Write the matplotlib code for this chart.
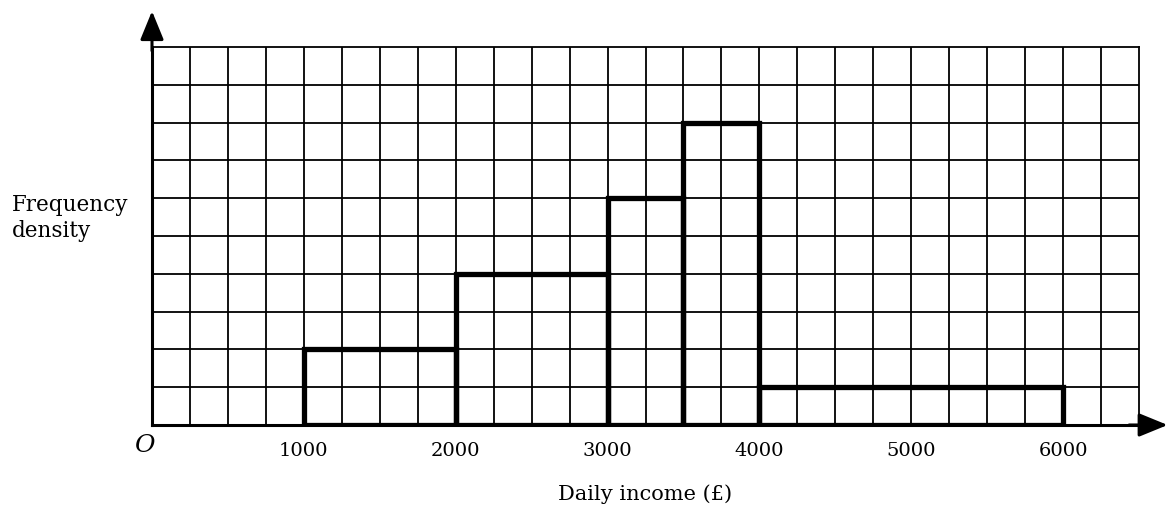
import matplotlib
matplotlib.use("Agg")
import matplotlib.pyplot as plt
import numpy as np

# Data: class boundaries of daily income (£) and frequency density (in grid squares)
edges = [1000, 2000, 3000, 3500, 4000, 6000]
density = [2, 4, 6, 8, 1]
tick_values = [1000, 2000, 3000, 4000, 5000, 6000]
tick_labels = ["1000", "2000", "3000", "4000", "5000", "6000"]

plt.rcParams['font.family'] = ['DejaVu Serif']

fig = plt.figure(figsize=(11.69, 5.12), dpi=100)
ax = fig.add_axes([152/1169, 87/512, 987/1169, 378/512])

ax.set_xlim(0, 6500)
ax.set_ylim(0, 10)

# grid of small squares (graph paper)
for gx in np.arange(250, 6500, 250):
    ax.axvline(gx, color='black', linewidth=1.3, zorder=1)
for gy in np.arange(1, 10, 1):
    ax.axhline(gy, color='black', linewidth=1.3, zorder=1)

ax.set_yticks([])
ax.tick_params(which='both', length=0)
ax.set_xticks(tick_values, tick_labels, fontsize=14)
ax.tick_params(axis='x', which='major', pad=12)

for s in ['top', 'right']:
    ax.spines[s].set_linewidth(1.3)
for s in ['left', 'bottom']:
    ax.spines[s].set_linewidth(2.2)

# histogram bars
widths = np.diff(edges)
ax.bar(edges[:-1], density, width=widths, align='edge', fill=False,
       edgecolor='black', linewidth=3.8, zorder=3)

# axis arrows
arrow_style = '-|>,head_length=1.1,head_width=0.45'
ax.annotate('', xy=(0, 1.095), xytext=(0, 0.99), xycoords='axes fraction',
            arrowprops=dict(arrowstyle=arrow_style, color='black', lw=2.2,
                            mutation_scale=16, shrinkA=0, shrinkB=0),
            annotation_clip=False)
ax.annotate('', xy=(1.029, 0), xytext=(0.99, 0), xycoords='axes fraction',
            arrowprops=dict(arrowstyle=arrow_style, color='black', lw=2.2,
                            mutation_scale=16, shrinkA=0, shrinkB=0),
            annotation_clip=False)

# origin label
fig.text(144/1169, 1 - 446/512, 'O', fontsize=18, style='italic',
         ha='center', va='center')

ax.set_xlabel('Daily income (£)', fontsize=15, labelpad=18)

fig.text(12/1169, 1 - 218/512, 'Frequency\ndensity', fontsize=15.5,
         ha='left', va='center', multialignment='left', linespacing=1.25)

fig.savefig('out.png', dpi=100)
